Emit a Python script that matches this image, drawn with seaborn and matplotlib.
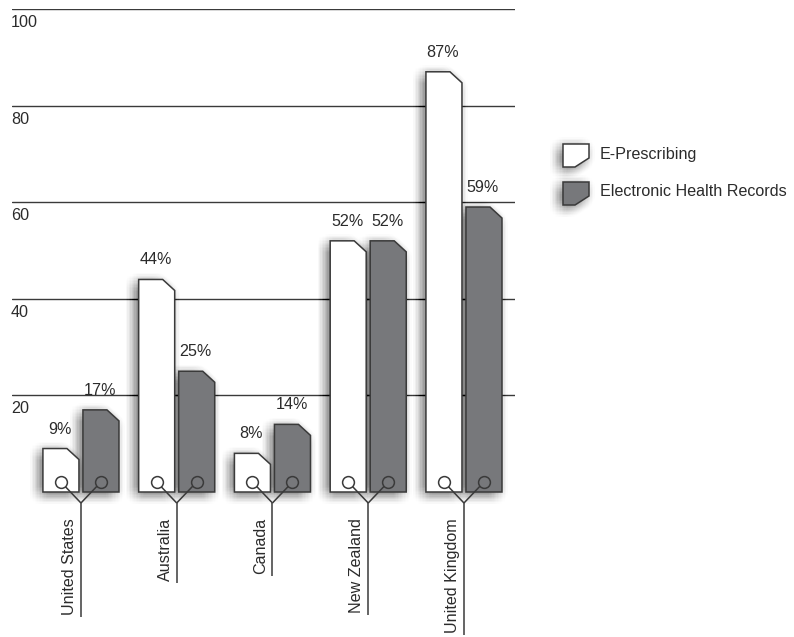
import matplotlib
matplotlib.use("Agg")
import matplotlib.pyplot as plt
import seaborn as sns
import pandas as pd
import numpy as np
from matplotlib.patches import Polygon
from matplotlib.transforms import Affine2D, offset_copy

# ---- data ----
countries = ["United States", "Australia", "Canada", "New Zealand", "United Kingdom"]
eprescribing = [9, 44, 8, 52, 87]
ehr = [17, 25, 14, 52, 59]
series_names = ["E-Prescribing", "Electronic Health Records"]
yticks = [20, 40, 60, 80, 100]

# ---- style ----
WHITE = "#ffffff"
GRAY = "#77787b"
EDGE = "#3a3a3a"
TEXT = "#2b2b2b"
GRID = "#3a3a3a"
FS = 11.6

sns.set_style("white")
plt.rcParams["font.family"] = ["Liberation Sans", "DejaVu Sans"]

W, H = 794, 637
fig = plt.figure(figsize=(W / 100, H / 100), dpi=100)
ax = fig.add_axes([12 / W, 145 / H, 503 / W, 483 / H])

df = pd.DataFrame({
    "country": countries * 2,
    "value": eprescribing + ehr,
    "series": [series_names[0]] * len(countries) + [series_names[1]] * len(countries),
})
sns.barplot(data=df, x="country", y="value", hue="series", hue_order=series_names,
            order=countries, palette=[WHITE, GRAY], width=0.836, gap=0.1,
            legend=False, ax=ax, saturation=1)
ax.set_xlim(-0.72, 4.533)
ax.set_ylim(0, 100)
ax.axis("off")

# pixel scales
p0 = ax.transData.transform((0, 0))
sx = ax.transData.transform((1, 0))[0] - p0[0]
sy = ax.transData.transform((0, 1))[1] - p0[1]

SHX, SHY = -4, -3
RAD = 10
_steps = np.arange(-RAD, RAD + 0.01, 1.4)
SH_OFFSETS = [(dx, dy) for dx in _steps for dy in _steps if dx * dx + dy * dy <= RAD * RAD]
SH_ALPHA = 1.0 / 255


def add_shadow(adder, verts, base_tr, zorder):
    for dx, dy in SH_OFFSETS:
        tr = base_tr + Affine2D().translate(dx + SHX, dy + SHY)
        adder(Polygon(verts, closed=True, transform=tr, fc="black",
                      alpha=SH_ALPHA, lw=0, zorder=zorder, clip_on=False))


# gridlines and tick labels
for v in yticks:
    ax.axhline(v, color=GRID, lw=1.0, zorder=1)
    ax.text(-0.72, v, str(v), transform=offset_copy(ax.transData, fig, x=-1, y=-6, units="dots"),
            ha="left", va="top", fontsize=FS, color=TEXT)

cut_x = 12 / sx
cut_y = 11 / sy
circ_y = 10 / sy
junc_y = -11 / sy
colors = [WHITE, GRAY]
values = [eprescribing, ehr]

for i, cont in enumerate(ax.containers):
    for j, rect in enumerate(cont):
        x0 = rect.get_x()
        w = rect.get_width()
        h = rect.get_height()
        rect.set_visible(False)
        verts = [(x0, 0), (x0, h), (x0 + w - cut_x, h), (x0 + w, h - cut_y), (x0 + w, 0)]
        add_shadow(ax.add_patch, verts, ax.transData, 2)
        ax.add_patch(Polygon(verts, closed=True, fc=colors[i], ec=EDGE, lw=1.1,
                             zorder=3, clip_on=False))
        xc = x0 + w / 2
        ax.text(xc, h, f"{values[i][j]}%",
                transform=offset_copy(ax.transData, fig, x=-1, y=15, units="dots"),
                ha="center", va="baseline", fontsize=FS, color=TEXT)
        # connector
        ax.plot([xc, j], [circ_y, junc_y], color=EDGE, lw=1.1, zorder=4,
                clip_on=False, solid_capstyle="butt")
        ax.plot([xc], [circ_y], marker="o", ms=8.5, mfc=colors[i], mec=EDGE, mew=1.1,
                zorder=5, clip_on=False)

labels = []
for j, name in enumerate(countries):
    t = ax.text(j, 0, name, transform=offset_copy(ax.transData, fig, x=-4, y=-26, units="dots"),
                rotation=90, ha="right", va="top", fontsize=FS, color=TEXT)
    labels.append(t)

fig.canvas.draw()
renderer = fig.canvas.get_renderer()
inv = ax.transData.inverted()
for j, t in enumerate(labels):
    bb = t.get_window_extent(renderer)
    ybot = inv.transform((0, bb.y0 - 2))[1]
    ax.plot([j, j], [junc_y, ybot], color=EDGE, lw=1.1, zorder=4, clip_on=False,
            solid_capstyle="butt")

# ---- legend (figure pixel layout) ----
def fpx(x, ytop):
    return (x / W, (H - ytop) / H)


leg_items = [(series_names[0], WHITE, 144), (series_names[1], GRAY, 182)]
for name, col, top in leg_items:
    l, r, b = 563, 589, top + 23
    vpx = [(l, top), (r, top), (r, b - 9), (r - 14, b), (l, b)]
    verts = [fpx(x, y) for x, y in vpx]
    add_shadow(fig.add_artist, verts, fig.transFigure, 2)
    fig.add_artist(Polygon(verts, closed=True, transform=fig.transFigure, fc=col, ec=EDGE,
                           lw=1.1, zorder=3))
    fig.text(*fpx(600, top + 10), name, ha="left", va="center", fontsize=FS, color=TEXT)

fig.savefig("out.png", dpi=100)
